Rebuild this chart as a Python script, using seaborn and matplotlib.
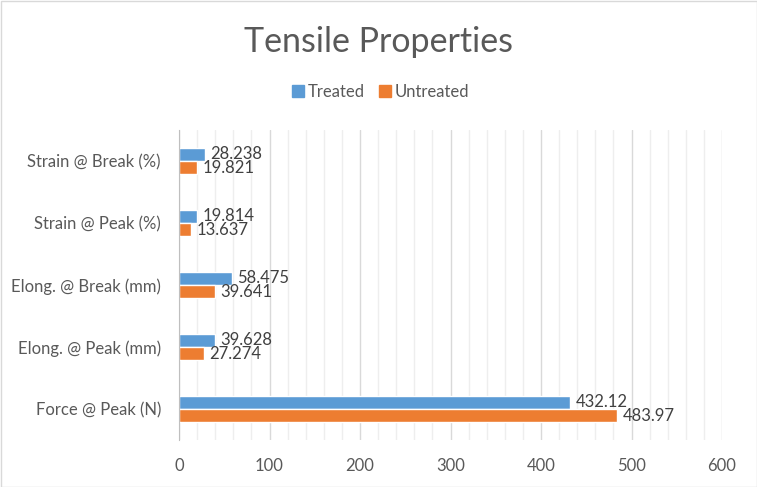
import matplotlib
matplotlib.use("Agg")
import matplotlib.pyplot as plt
import seaborn as sns
import pandas as pd
import numpy as np
from matplotlib.ticker import MultipleLocator, FixedLocator
from matplotlib.patches import Rectangle
from matplotlib.lines import Line2D

categories = ["Strain @ Break (%)", "Strain @ Peak (%)", "Elong. @ Break (mm)",
              "Elong. @ Peak (mm)", "Force @ Peak (N)"]
treated = [28.238, 19.814, 58.475, 39.628, 432.12]
untreated = [19.821, 13.637, 39.641, 27.274, 483.97]
treated_labels = ["28.238", "19.814", "58.475", "39.628", "432.12"]
untreated_labels = ["19.821", "13.637", "39.641", "27.274", "483.97"]
series = ["Treated", "Untreated"]
colors = ["#5B9BD5", "#ED7D31"]

df = pd.DataFrame({
    "cat": categories * 2,
    "val": treated + untreated,
    "series": ["Treated"] * 5 + ["Untreated"] * 5,
})

sns.set_style("white")
plt.rcParams["font.family"] = ["Lato", "DejaVu Sans"]
txt = "#595959"

fig = plt.figure(figsize=(7.57, 4.87), dpi=100)
ax = fig.add_axes([179/757, 1-440/487, (722-179)/757, (440-130)/487])

sns.barplot(data=df, y="cat", x="val", hue="series", order=categories,
            hue_order=series, palette=colors, orient="h", width=0.42,
            gap=0, ax=ax, legend=False, saturation=1)

ax.set_xlim(0, 600)
ax.set_ylim(4.5, -0.5)
ax.xaxis.set_major_locator(MultipleLocator(100))
ax.xaxis.set_minor_locator(MultipleLocator(20))
ax.grid(axis="x", which="major", color="#d9d9d9", linewidth=1)
ax.grid(axis="x", which="minor", color="#eeeeee", linewidth=1)
ax.set_axisbelow(True)
for s in ["top", "right", "bottom"]:
    ax.spines[s].set_visible(False)
ax.spines["left"].set_color("#bfbfbf")
ax.tick_params(axis="x", which="both", length=0, labelsize=12, labelcolor=txt, pad=13)
ax.yaxis.set_major_locator(FixedLocator(range(5)))
ax.set_yticklabels(categories)
ax.yaxis.set_minor_locator(FixedLocator([i - 0.5 for i in range(6)]))
ax.tick_params(axis="y", which="major", length=0, labelsize=12, labelcolor=txt, pad=13)
ax.tick_params(axis="y", which="minor", length=5, color="#bfbfbf", direction="out")
ax.set_xlabel("")
ax.set_ylabel("")

# data labels
for cont, labs in zip(ax.containers, [treated_labels, untreated_labels]):
    ax.bar_label(cont, labels=labs, padding=4, fontsize=12, color="#404040")

fig.text(0.5, 1-42/487, "Tensile Properties", ha="center", va="center",
         fontsize=24.5, color=txt)
handles = [Line2D([0], [0], marker="s", linestyle="", markersize=8,
                  markerfacecolor=c, markeredgecolor=c) for c in colors]
fig.legend(handles, series, loc="center", bbox_to_anchor=(0.5, 1-92/487),
           ncol=2, frameon=False, fontsize=12, labelcolor=txt,
           handletextpad=0.0, columnspacing=0.6, handlelength=1.2)

fig.patches.append(Rectangle((0.5/757, 0.5/487), 1-1/757, 1-1/487, transform=fig.transFigure,
                             fill=False, edgecolor="#d9d9d9", linewidth=1))
fig.savefig("out.png", dpi=100)
